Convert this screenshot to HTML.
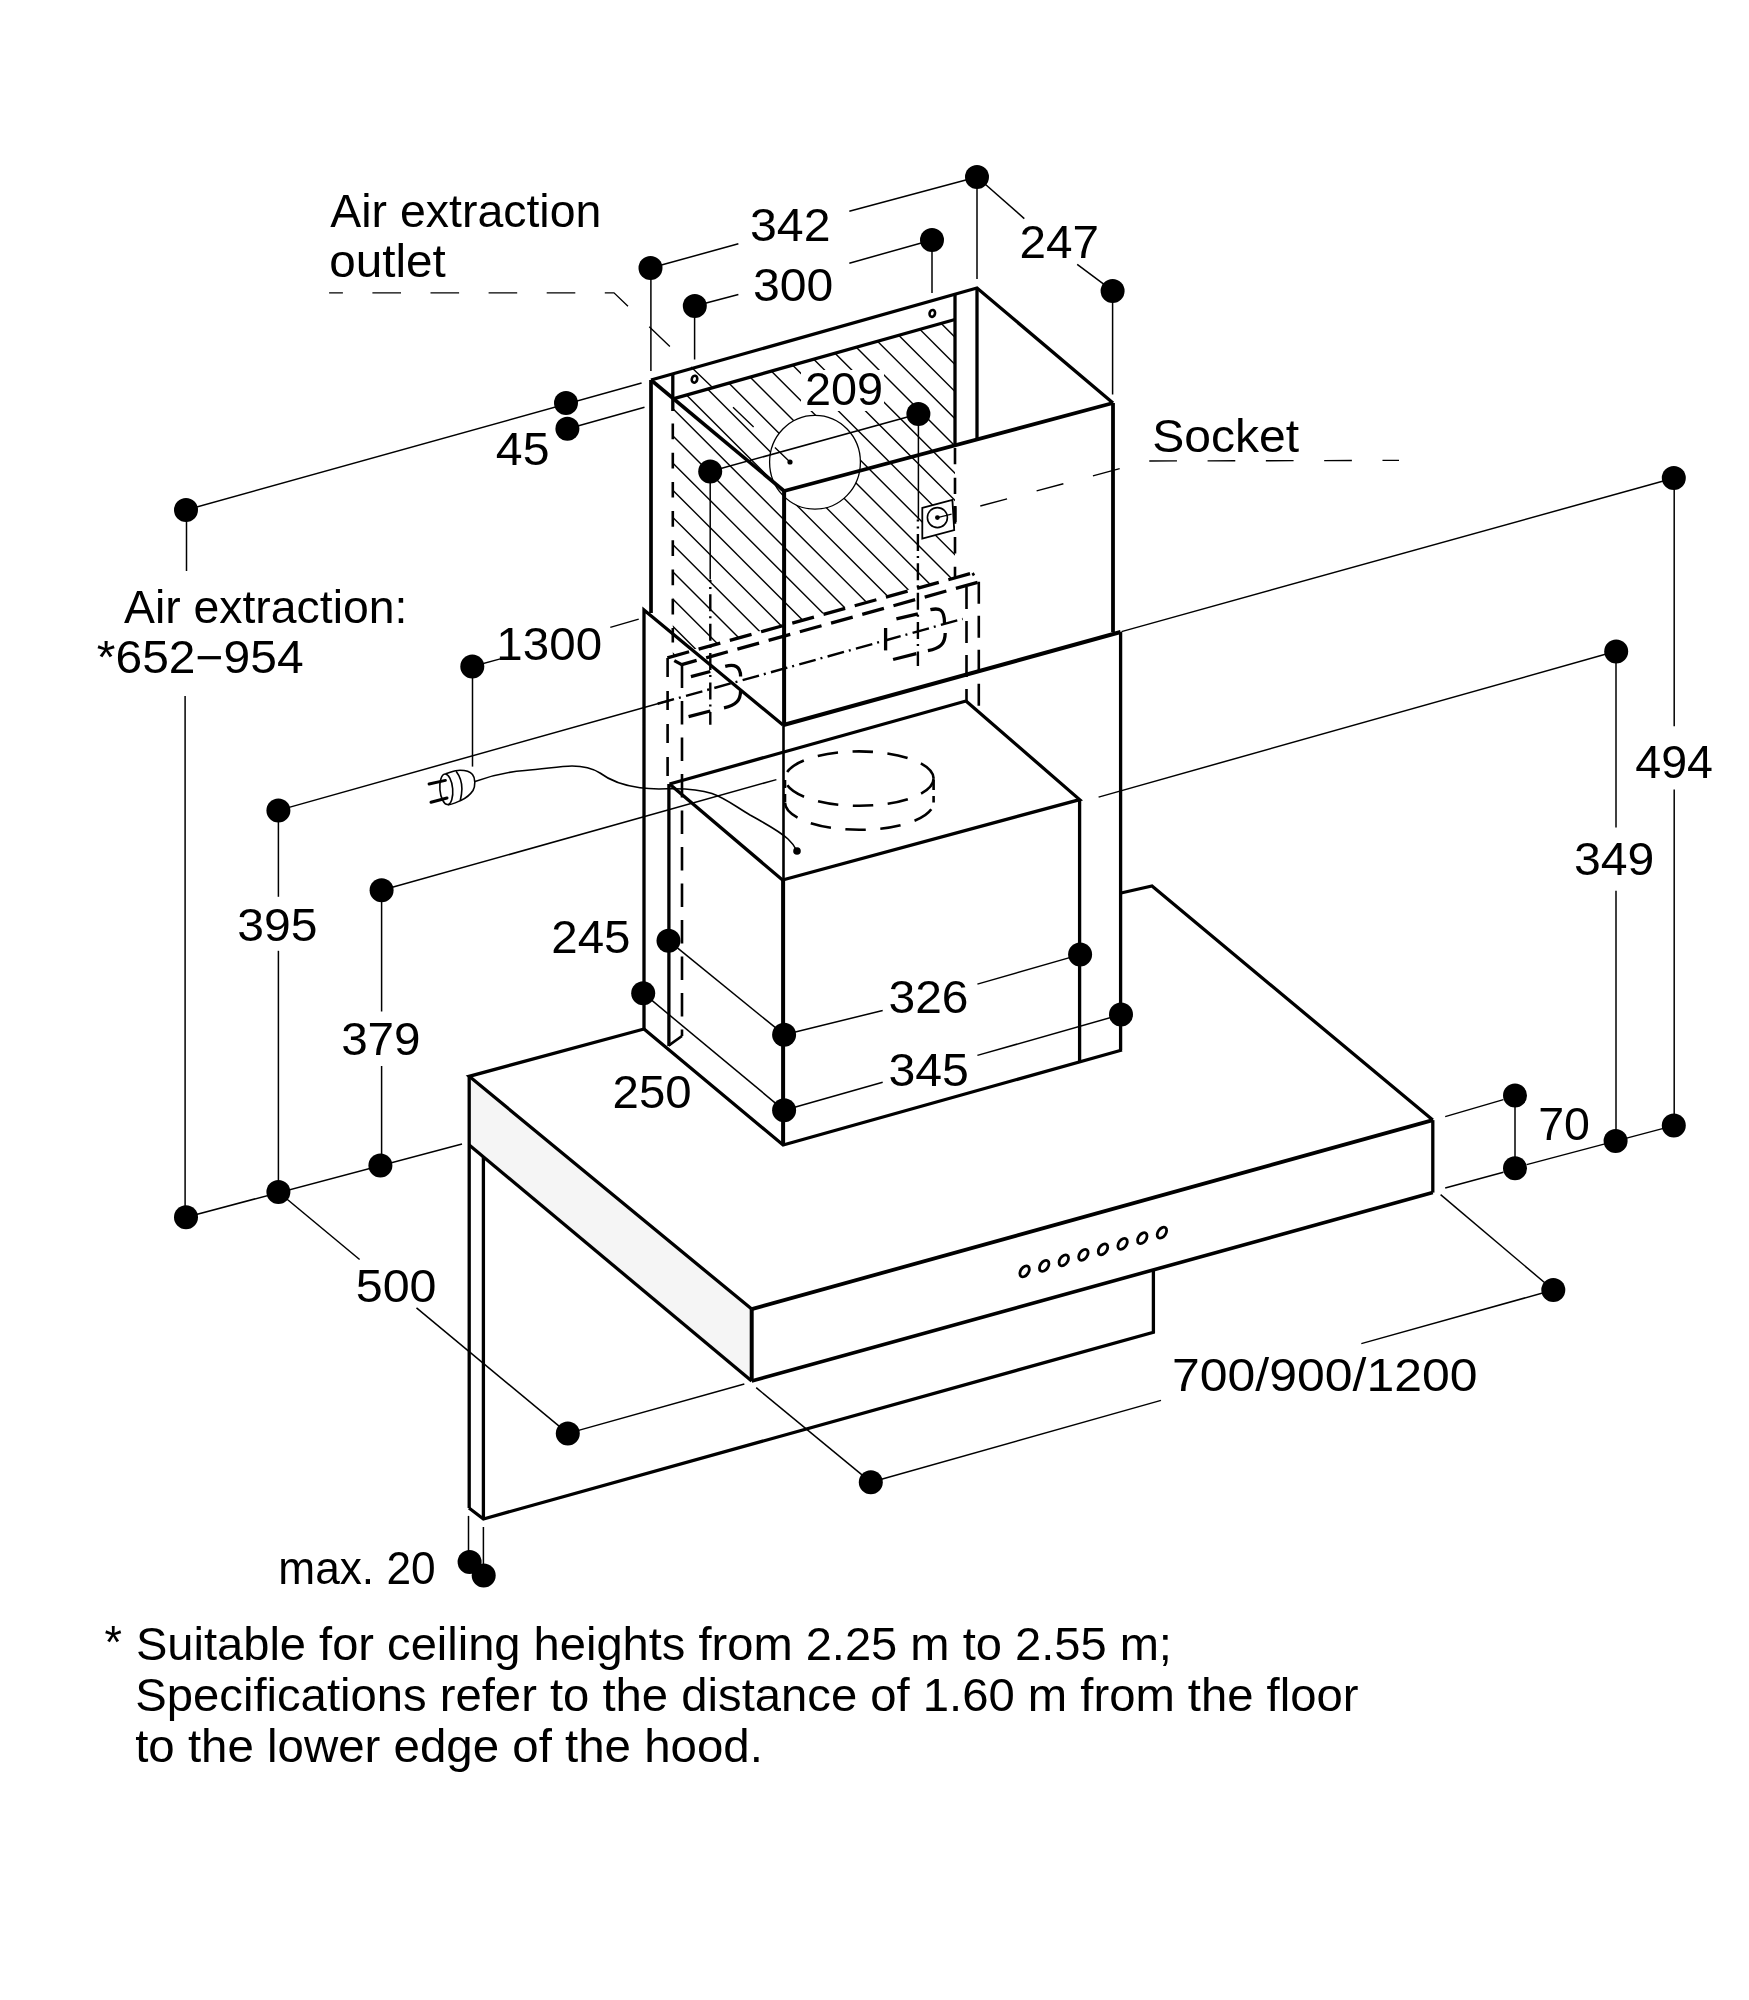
<!DOCTYPE html>
<html><head><meta charset="utf-8"><style>
html,body{margin:0;padding:0;background:#fff;}
svg{display:block;filter:grayscale(1);}
text{font-family:"Liberation Sans",sans-serif;fill:#000;}
</style></head><body>
<svg width="1749" height="2000" viewBox="0 0 1749 2000">
<defs><mask id="hm" maskUnits="userSpaceOnUse" x="0" y="0" width="1749" height="2000">
<polygon points="672.8,398.8 955,319.5 955,576.7 672.8,655.3" fill="#fff"/>
<ellipse cx="815" cy="462.2" rx="45.4" ry="46.9" fill="#000"/>
<rect x="801" y="370" width="83" height="41" fill="#000"/>
<polygon points="922.3,507.9 952.4,499.9 954.2,530 922.3,538.5" fill="#000"/>
</mask></defs>
<rect width="1749" height="2000" fill="#fff"/>
<g stroke="#000" stroke-linecap="butt" stroke-linejoin="miter" stroke-miterlimit="2.5" fill="none">
<polygon points="469.2,1076.3 751.7,1309.1 751.7,1381 469.2,1145" fill="#f5f5f5" stroke="none" stroke-width="0"/>
<g mask="url(#hm)">
<line x1="660" y1="-93.8" x2="970" y2="216.2" stroke-width="1.4"/>
<line x1="660" y1="-66.6" x2="970" y2="243.4" stroke-width="1.4"/>
<line x1="660" y1="-39.4" x2="970" y2="270.6" stroke-width="1.4"/>
<line x1="660" y1="-12.2" x2="970" y2="297.8" stroke-width="1.4"/>
<line x1="660" y1="15" x2="970" y2="325" stroke-width="1.4"/>
<line x1="660" y1="42.2" x2="970" y2="352.2" stroke-width="1.4"/>
<line x1="660" y1="69.4" x2="970" y2="379.4" stroke-width="1.4"/>
<line x1="660" y1="96.6" x2="970" y2="406.6" stroke-width="1.4"/>
<line x1="660" y1="123.8" x2="970" y2="433.8" stroke-width="1.4"/>
<line x1="660" y1="151" x2="970" y2="461" stroke-width="1.4"/>
<line x1="660" y1="178.2" x2="970" y2="488.2" stroke-width="1.4"/>
<line x1="660" y1="205.4" x2="970" y2="515.4" stroke-width="1.4"/>
<line x1="660" y1="232.6" x2="970" y2="542.6" stroke-width="1.4"/>
<line x1="660" y1="259.8" x2="970" y2="569.8" stroke-width="1.4"/>
<line x1="660" y1="287" x2="970" y2="597" stroke-width="1.4"/>
<line x1="660" y1="314.2" x2="970" y2="624.2" stroke-width="1.4"/>
<line x1="660" y1="341.4" x2="970" y2="651.4" stroke-width="1.4"/>
<line x1="660" y1="368.6" x2="970" y2="678.6" stroke-width="1.4"/>
<line x1="660" y1="395.8" x2="970" y2="705.8" stroke-width="1.4"/>
<line x1="660" y1="423" x2="970" y2="733" stroke-width="1.4"/>
<line x1="660" y1="450.2" x2="970" y2="760.2" stroke-width="1.4"/>
<line x1="660" y1="477.4" x2="970" y2="787.4" stroke-width="1.4"/>
<line x1="660" y1="504.6" x2="970" y2="814.6" stroke-width="1.4"/>
<line x1="660" y1="531.8" x2="970" y2="841.8" stroke-width="1.4"/>
<line x1="660" y1="559" x2="970" y2="869" stroke-width="1.4"/>
<line x1="660" y1="586.2" x2="970" y2="896.2" stroke-width="1.4"/>
<line x1="660" y1="613.4" x2="970" y2="923.4" stroke-width="1.4"/>
<line x1="660" y1="640.6" x2="970" y2="950.6" stroke-width="1.4"/>
<line x1="660" y1="667.8" x2="970" y2="977.8" stroke-width="1.4"/>
<line x1="660" y1="695" x2="970" y2="1005" stroke-width="1.4"/>
<line x1="660" y1="722.2" x2="970" y2="1032.2" stroke-width="1.4"/>
<line x1="660" y1="749.4" x2="970" y2="1059.4" stroke-width="1.4"/>
<line x1="660" y1="776.6" x2="970" y2="1086.6" stroke-width="1.4"/>
<line x1="660" y1="803.8" x2="970" y2="1113.8" stroke-width="1.4"/>
<line x1="660" y1="831" x2="970" y2="1141" stroke-width="1.4"/>
<line x1="660" y1="858.2" x2="970" y2="1168.2" stroke-width="1.4"/>
<line x1="660" y1="885.4" x2="970" y2="1195.4" stroke-width="1.4"/>
<line x1="660" y1="912.6" x2="970" y2="1222.6" stroke-width="1.4"/>
<line x1="660" y1="939.8" x2="970" y2="1249.8" stroke-width="1.4"/>
<line x1="660" y1="967" x2="970" y2="1277" stroke-width="1.4"/>
<line x1="660" y1="994.2" x2="970" y2="1304.2" stroke-width="1.4"/>
<line x1="660" y1="1021.4" x2="970" y2="1331.4" stroke-width="1.4"/>
<line x1="660" y1="1048.6" x2="970" y2="1358.6" stroke-width="1.4"/>
<line x1="660" y1="1075.8" x2="970" y2="1385.8" stroke-width="1.4"/>
<line x1="660" y1="1103" x2="970" y2="1413" stroke-width="1.4"/>
</g>
<ellipse cx="815" cy="462.2" rx="45.4" ry="46.9" stroke-width="1.3"/>
<polyline points="651,380 977,288 1113,403" stroke-width="3.3"/>
<line x1="1113" y1="403" x2="784.1" y2="491" stroke-width="3.8"/>
<line x1="651" y1="380" x2="784.1" y2="491" stroke-width="3.6"/>
<line x1="651" y1="380" x2="651" y2="613" stroke-width="3.7"/>
<line x1="784.1" y1="491" x2="784.1" y2="725" stroke-width="4"/>
<line x1="1113" y1="403" x2="1113" y2="632" stroke-width="3.8"/>
<line x1="672.9" y1="398.8" x2="955" y2="319.5" stroke-width="3.3"/>
<line x1="977" y1="288" x2="977" y2="440" stroke-width="3.3"/>
<line x1="955" y1="294.5" x2="955" y2="445.5" stroke-width="3.3"/>
<line x1="672.8" y1="374" x2="672.8" y2="411" stroke-width="3.3"/>
<ellipse cx="694.5" cy="379.2" rx="2.7" ry="3.5" transform="rotate(15 694.5 379.2)" stroke-width="2.6"/>
<ellipse cx="932.3" cy="313.4" rx="2.7" ry="3.5" transform="rotate(15 932.3 313.4)" stroke-width="2.6"/>
<line x1="672.8" y1="423.5" x2="672.8" y2="642.5" stroke-width="2.6" stroke-dasharray="15.7 13.5"/>
<line x1="955" y1="448" x2="955" y2="577" stroke-width="2.6" stroke-dasharray="16.3 13.4"/>
<line x1="667.4" y1="657.8" x2="972.6" y2="573" stroke-width="3.3" stroke-dasharray="22.5 9.9"/>
<line x1="681.7" y1="664.6" x2="979.5" y2="581.8" stroke-width="3.3" stroke-dasharray="22.5 9.9" stroke-dashoffset="7"/>
<polyline points="972.6,573 974,575.5" stroke-width="2.6"/>
<line x1="667.6" y1="658" x2="667.6" y2="784" stroke-width="2.6" stroke-dasharray="19 14"/>
<line x1="682" y1="664.6" x2="682" y2="1036" stroke-width="2.6" stroke-dasharray="23.5 13"/>
<polyline points="668.5,1045.6 682,1036" stroke-width="2.6"/>
<line x1="966.5" y1="587" x2="966.5" y2="701" stroke-width="2.6" stroke-dasharray="22 12"/>
<line x1="978.8" y1="581.8" x2="978.8" y2="712" stroke-width="2.6" stroke-dasharray="22 12"/>
<line x1="690.9" y1="676.6" x2="710.3" y2="671.5" stroke-width="3.3"/>
<line x1="688.6" y1="716.7" x2="710.3" y2="711" stroke-width="3.3"/>
<line x1="896.4" y1="618.9" x2="917.9" y2="613.9" stroke-width="3.3"/>
<line x1="893.1" y1="659.5" x2="916.3" y2="653.7" stroke-width="3.3"/>
<path d="M725.2,666.3 C734,664 740.6,665.5 740.6,676.6" stroke-width="3.3"/>
<path d="M740.6,690.4 C740.6,700.5 736,705.2 724,707.8" stroke-width="3.3"/>
<path d="M930.4,609.7 C939,607.8 944.5,608.6 944.5,623" stroke-width="3.3"/>
<path d="M945.2,633 C945.2,644 940,648.5 927.9,650.6" stroke-width="3.3"/>
<line x1="885.6" y1="628" x2="885.6" y2="650.4" stroke-width="3.3"/>
<line x1="674.3" y1="660.6" x2="681.7" y2="664.6" stroke-width="3.3"/>
<line x1="655" y1="704.5" x2="962.7" y2="618.9" stroke-width="2.4" stroke-dasharray="17 5 2 5.4" stroke-dashoffset="26.65"/>
<line x1="710.3" y1="580" x2="710.3" y2="724.7" stroke-width="2.4" stroke-dasharray="17 5 2 5.4" stroke-dashoffset="15.1"/>
<line x1="917.9" y1="519.4" x2="917.9" y2="666" stroke-width="2.4" stroke-dasharray="17 5 2 5.4" stroke-dashoffset="14.9"/>
<polygon points="922.3,507.9 952.4,499.9 954.2,530 922.3,538.5" fill="#fff" stroke="#000" stroke-width="1.8"/>
<circle cx="937.4" cy="517.6" r="10" stroke-width="1.6"/>
<circle cx="937.4" cy="517.6" r="2.4" fill="#000" stroke="none"/>
<line x1="937.4" y1="517.6" x2="951.6" y2="514.1" stroke-width="1.3"/>
<line x1="955" y1="506" x2="955" y2="522" stroke-width="3.3"/>
<polyline points="644,1029 644,610 783,725" stroke-width="3.3"/>
<line x1="783.5" y1="725" x2="1120.6" y2="632" stroke-width="4"/>
<line x1="1120.6" y1="632" x2="1120.6" y2="1050" stroke-width="3.3"/>
<line x1="783.5" y1="725" x2="783.5" y2="880" stroke-width="2.6"/>
<polyline points="644,1029 783.1,1145 1122,1050" stroke-width="3.3"/>
<line x1="669.5" y1="784" x2="966" y2="701" stroke-width="3.3"/>
<polyline points="669.5,784 782.5,880 1079.6,799.6 966,701" stroke-width="3.3"/>
<line x1="783.1" y1="880" x2="783.1" y2="1145" stroke-width="4"/>
<line x1="1079.6" y1="799.6" x2="1079.6" y2="1061" stroke-width="3.3"/>
<line x1="668.9" y1="784" x2="668.9" y2="1046" stroke-width="3.3"/>
<ellipse cx="859.3" cy="778.6" rx="74.3" ry="27.2" stroke-width="2.6" stroke-dasharray="20.5 14.5"/>
<path d="M785,802.6 A74.3,27.2 0 0 0 933.6,802.6" stroke-width="2.6" stroke-dasharray="20.5 14.5"/>
<line x1="785" y1="780" x2="785" y2="802.6" stroke-width="2.6" stroke-dasharray="8 6"/>
<line x1="933.6" y1="780" x2="933.6" y2="802.6" stroke-width="2.6" stroke-dasharray="10 6"/>
<path d="M475,781.5 C490,776 505,772 525,770.5 C545,769 560,766 572,766 C585,766 592,768 600,773 C608,779 620,785 640,787.8 C652,789.5 660,789 670,788.7 C685,788.5 700,789.5 712,793.5 C725,798 735,806 750,815 C765,823.5 778,830 788,839 C793,843.5 795,847 797,851" stroke-width="1.6"/>
<circle cx="797" cy="851" r="3.8" fill="#000" stroke="none"/>
<path d="M445.6,773.8 C452,771.8 455,770.3 460,770.3 C465,770.3 470,771.5 472.5,774.5 C475.5,778 475.5,786 473,790.5 C470,795 466,798 461.2,800.3 C456,802.5 452,804.5 447.8,805" stroke-width="1.6"/>
<ellipse cx="446.3" cy="789.3" rx="6.4" ry="15.3" transform="rotate(-5 446.3 789.3)" stroke-width="1.6"/>
<path d="M456.1,771.2 C460.5,777 462,783 461.9,789 C461.8,794 461,797.5 460.3,800.3" stroke-width="1.6"/>
<line x1="429.1" y1="784" x2="445.4" y2="780.4" stroke-width="3" stroke-linecap="round"/>
<line x1="431" y1="802.3" x2="447" y2="798" stroke-width="3" stroke-linecap="round"/>
<polyline points="644,1029 469.2,1076.3 751.7,1309.1" stroke-width="3.3"/>
<line x1="751.7" y1="1309.1" x2="1432.8" y2="1120.1" stroke-width="3.8"/>
<polyline points="1432.8,1120.1 1152,886 1121,893" stroke-width="3.3"/>
<line x1="469.2" y1="1076.3" x2="469.2" y2="1508" stroke-width="3.3"/>
<polyline points="469.2,1145 751.7,1381" stroke-width="3.3"/>
<line x1="751.7" y1="1381" x2="1432.8" y2="1192.6" stroke-width="3.6"/>
<line x1="1432.8" y1="1192.6" x2="1432.8" y2="1120.1" stroke-width="3.3"/>
<line x1="751.7" y1="1309.1" x2="751.7" y2="1381" stroke-width="4"/>
<polyline points="469,1508 483.4,1519 1153.4,1332.3 1153.4,1269.8" stroke-width="3.3"/>
<line x1="483.4" y1="1157" x2="483.4" y2="1519" stroke-width="3.3"/>
<ellipse cx="1024.6" cy="1271.4" rx="3.9" ry="6.1" transform="rotate(35 1024.6 1271.4)" stroke-width="2.8"/>
<ellipse cx="1044.2" cy="1265.9" rx="3.9" ry="6.1" transform="rotate(35 1044.2 1265.9)" stroke-width="2.8"/>
<ellipse cx="1063.8" cy="1260.3" rx="3.9" ry="6.1" transform="rotate(35 1063.8 1260.3)" stroke-width="2.8"/>
<ellipse cx="1083.4" cy="1254.8" rx="3.9" ry="6.1" transform="rotate(35 1083.4 1254.8)" stroke-width="2.8"/>
<ellipse cx="1103.0" cy="1249.3" rx="3.9" ry="6.1" transform="rotate(35 1103.0 1249.3)" stroke-width="2.8"/>
<ellipse cx="1122.6" cy="1243.8" rx="3.9" ry="6.1" transform="rotate(35 1122.6 1243.8)" stroke-width="2.8"/>
<ellipse cx="1142.3" cy="1238.2" rx="3.9" ry="6.1" transform="rotate(35 1142.3 1238.2)" stroke-width="2.8"/>
<ellipse cx="1161.9" cy="1232.7" rx="3.9" ry="6.1" transform="rotate(35 1161.9 1232.7)" stroke-width="2.8"/>
<path d="M329.1,292.8 L614,292.8 L790,462" stroke-width="1.35" stroke-dasharray="28.6 29.5" stroke-dashoffset="14.8"/>
<circle cx="790" cy="462" r="2.6" fill="#000" stroke="none"/>
<path d="M980.3,506 L1148.3,461 L1399,460.4" stroke-width="1.35" stroke-dasharray="27.7 30.6"/>
<line x1="650.5" y1="268" x2="738.4" y2="243.8" stroke-width="1.5"/>
<line x1="849.3" y1="211.3" x2="977" y2="177" stroke-width="1.5"/>
<line x1="694.8" y1="306" x2="738.4" y2="294.5" stroke-width="1.5"/>
<line x1="849.3" y1="263.2" x2="932" y2="240" stroke-width="1.5"/>
<line x1="650.9" y1="268" x2="650.9" y2="371" stroke-width="1.5"/>
<line x1="694.6" y1="306" x2="694.6" y2="359.5" stroke-width="1.5"/>
<line x1="932" y1="240" x2="932" y2="293" stroke-width="1.5"/>
<line x1="977" y1="177" x2="977" y2="279" stroke-width="1.5"/>
<line x1="1112.6" y1="291" x2="1112.6" y2="394.5" stroke-width="1.5"/>
<line x1="977" y1="177" x2="1024.3" y2="218.6" stroke-width="1.5"/>
<line x1="1077.2" y1="264.3" x2="1112.4" y2="290.6" stroke-width="1.5"/>
<line x1="186" y1="510" x2="641.6" y2="383" stroke-width="1.5"/>
<line x1="567" y1="429" x2="644.5" y2="407.3" stroke-width="1.5"/>
<line x1="710" y1="471.5" x2="918.3" y2="414" stroke-width="1.5"/>
<line x1="710.2" y1="471.5" x2="710.2" y2="579.6" stroke-width="1.5"/>
<line x1="918.4" y1="414" x2="918.4" y2="519.4" stroke-width="1.5"/>
<line x1="186.5" y1="510" x2="186.5" y2="571" stroke-width="1.5"/>
<line x1="185.1" y1="696" x2="185.1" y2="1217" stroke-width="1.5"/>
<line x1="472.3" y1="666.5" x2="500.3" y2="658.9" stroke-width="1.5"/>
<line x1="472.5" y1="666.5" x2="472.5" y2="766.6" stroke-width="1.5"/>
<line x1="610.3" y1="627.4" x2="638.7" y2="619.1" stroke-width="1.5"/>
<line x1="278.4" y1="810.4" x2="672.7" y2="699.5" stroke-width="1.5"/>
<line x1="278.4" y1="810.4" x2="278.4" y2="896.8" stroke-width="1.5"/>
<line x1="278.4" y1="950.8" x2="278.4" y2="1192" stroke-width="1.5"/>
<line x1="381.6" y1="890.3" x2="776.4" y2="779.6" stroke-width="1.5"/>
<line x1="381.6" y1="890.3" x2="381.6" y2="1011.5" stroke-width="1.5"/>
<line x1="381.6" y1="1066" x2="381.6" y2="1165.6" stroke-width="1.5"/>
<line x1="186" y1="1217.2" x2="462" y2="1144" stroke-width="1.5"/>
<line x1="278.4" y1="1192" x2="359.6" y2="1259.5" stroke-width="1.5"/>
<line x1="416.5" y1="1307.8" x2="567.8" y2="1433.4" stroke-width="1.5"/>
<line x1="567.8" y1="1433.4" x2="744.3" y2="1384" stroke-width="1.5"/>
<line x1="756.2" y1="1387.7" x2="870.8" y2="1482.2" stroke-width="1.5"/>
<line x1="870.8" y1="1482.2" x2="1161" y2="1400.4" stroke-width="1.5"/>
<line x1="1361.3" y1="1343.6" x2="1553.3" y2="1290" stroke-width="1.5"/>
<line x1="1440.6" y1="1194.6" x2="1553.3" y2="1290" stroke-width="1.5"/>
<line x1="1445.2" y1="1116.6" x2="1503.4" y2="1099.6" stroke-width="1.5"/>
<line x1="1445.2" y1="1188" x2="1503.4" y2="1172.3" stroke-width="1.5"/>
<line x1="1515" y1="1095.5" x2="1515" y2="1168.2" stroke-width="1.5"/>
<line x1="1526.7" y1="1164.6" x2="1673.8" y2="1125.6" stroke-width="1.5"/>
<line x1="1098.6" y1="797.1" x2="1616" y2="651.3" stroke-width="1.5"/>
<line x1="1616" y1="651.3" x2="1616" y2="827.6" stroke-width="1.5"/>
<line x1="1616" y1="890.8" x2="1616" y2="1141" stroke-width="1.5"/>
<line x1="1121.5" y1="631.6" x2="1674.2" y2="478" stroke-width="1.5"/>
<line x1="1674.2" y1="478" x2="1674.2" y2="726.3" stroke-width="1.5"/>
<line x1="1674.2" y1="789.6" x2="1674.2" y2="1125.6" stroke-width="1.5"/>
<line x1="668.5" y1="940.7" x2="784.1" y2="1034.7" stroke-width="1.5"/>
<line x1="643.2" y1="993.2" x2="784.1" y2="1110.3" stroke-width="1.5"/>
<line x1="784.1" y1="1034.7" x2="882.7" y2="1010.5" stroke-width="1.5"/>
<line x1="977.4" y1="984.1" x2="1080.1" y2="954.6" stroke-width="1.5"/>
<line x1="784.1" y1="1110.3" x2="882.7" y2="1082.2" stroke-width="1.5"/>
<line x1="977.4" y1="1055.4" x2="1121" y2="1014.6" stroke-width="1.5"/>
<line x1="468.5" y1="1515.9" x2="468.5" y2="1562" stroke-width="1.5"/>
<line x1="483.4" y1="1527" x2="483.4" y2="1575" stroke-width="1.5"/>
<circle cx="977" cy="177" r="12" fill="#000" stroke="none"/>
<circle cx="650.5" cy="268" r="12" fill="#000" stroke="none"/>
<circle cx="932" cy="240" r="12" fill="#000" stroke="none"/>
<circle cx="694.8" cy="306" r="12" fill="#000" stroke="none"/>
<circle cx="1112.6" cy="291" r="12" fill="#000" stroke="none"/>
<circle cx="566" cy="403" r="12" fill="#000" stroke="none"/>
<circle cx="567.4" cy="428.7" r="12" fill="#000" stroke="none"/>
<circle cx="186" cy="510" r="12" fill="#000" stroke="none"/>
<circle cx="710.2" cy="471.5" r="12" fill="#000" stroke="none"/>
<circle cx="918.4" cy="413.9" r="12" fill="#000" stroke="none"/>
<circle cx="472.3" cy="666.5" r="12" fill="#000" stroke="none"/>
<circle cx="1673.8" cy="478" r="12" fill="#000" stroke="none"/>
<circle cx="1616.2" cy="651.5" r="12" fill="#000" stroke="none"/>
<circle cx="278.4" cy="810.4" r="12" fill="#000" stroke="none"/>
<circle cx="381.6" cy="890.3" r="12" fill="#000" stroke="none"/>
<circle cx="668.5" cy="940.7" r="12" fill="#000" stroke="none"/>
<circle cx="643.2" cy="993.2" r="12" fill="#000" stroke="none"/>
<circle cx="784.1" cy="1034.7" r="12" fill="#000" stroke="none"/>
<circle cx="1080.1" cy="954.6" r="12" fill="#000" stroke="none"/>
<circle cx="784.1" cy="1110.3" r="12" fill="#000" stroke="none"/>
<circle cx="1121" cy="1014.6" r="12" fill="#000" stroke="none"/>
<circle cx="1515" cy="1095.5" r="12" fill="#000" stroke="none"/>
<circle cx="1515" cy="1168.2" r="12" fill="#000" stroke="none"/>
<circle cx="1615.6" cy="1141" r="12" fill="#000" stroke="none"/>
<circle cx="1673.8" cy="1125.6" r="12" fill="#000" stroke="none"/>
<circle cx="380.4" cy="1165.6" r="12" fill="#000" stroke="none"/>
<circle cx="278.4" cy="1192" r="12" fill="#000" stroke="none"/>
<circle cx="186" cy="1217.2" r="12" fill="#000" stroke="none"/>
<circle cx="567.8" cy="1433.4" r="12" fill="#000" stroke="none"/>
<circle cx="870.8" cy="1482.2" r="12" fill="#000" stroke="none"/>
<circle cx="1553.3" cy="1290" r="12" fill="#000" stroke="none"/>
<circle cx="469.6" cy="1562.1" r="12" fill="#000" stroke="none"/>
<circle cx="483.7" cy="1575.5" r="12" fill="#000" stroke="none"/>
<text transform="matrix(1.0098,0,0,1,330.30,226.90)" font-size="46" stroke="none">Air extraction</text>
<text transform="matrix(1.0355,0,0,1,329.33,277.20)" font-size="46" stroke="none">outlet</text>
<text transform="matrix(1.0493,0,0,1,750.00,241.00)" font-size="46" stroke="none">342</text>
<text transform="matrix(1.0466,0,0,1,752.91,301.40)" font-size="46" stroke="none">300</text>
<text transform="matrix(1.0370,0,0,1,1019.43,258.00)" font-size="46" stroke="none">247</text>
<text transform="matrix(1.0178,0,0,1,804.96,405.00)" font-size="46" stroke="none">209</text>
<text transform="matrix(1.0479,0,0,1,495.85,464.80)" font-size="46" stroke="none">45</text>
<text transform="matrix(1.0442,0,0,1,1152.31,452.00)" font-size="46" stroke="none">Socket</text>
<text transform="matrix(1.0079,0,0,1,124.00,623.40)" font-size="46" stroke="none">Air extraction:</text>
<text transform="matrix(1.0429,0,0,1,96.86,673.40)" font-size="46" stroke="none">*652−954</text>
<text transform="matrix(1.0330,0,0,1,496.37,660.10)" font-size="46" stroke="none">1300</text>
<text transform="matrix(1.0120,0,0,1,1635.29,777.60)" font-size="46" stroke="none">494</text>
<text transform="matrix(1.0466,0,0,1,1573.91,874.70)" font-size="46" stroke="none">349</text>
<text transform="matrix(1.0452,0,0,1,237.21,941.20)" font-size="46" stroke="none">395</text>
<text transform="matrix(1.0329,0,0,1,551.23,953.00)" font-size="46" stroke="none">245</text>
<text transform="matrix(1.0356,0,0,1,341.13,1055.20)" font-size="46" stroke="none">379</text>
<text transform="matrix(1.0425,0,0,1,888.52,1012.60)" font-size="46" stroke="none">326</text>
<text transform="matrix(1.0479,0,0,1,888.50,1085.70)" font-size="46" stroke="none">345</text>
<text transform="matrix(1.0301,0,0,1,612.54,1107.60)" font-size="46" stroke="none">250</text>
<text transform="matrix(1.0128,0,0,1,1538.17,1140.00)" font-size="46" stroke="none">70</text>
<text transform="matrix(1.0534,0,0,1,355.69,1302.20)" font-size="46" stroke="none">500</text>
<text transform="matrix(1.0856,0,0,1,1172.03,1390.80)" font-size="46" stroke="none">700/900/1200</text>
<text transform="matrix(0.9616,0,0,1,278.32,1584.40)" font-size="46" stroke="none">max. 20</text>
<text transform="matrix(0.9750,0,0,1,104.53,1657.80)" font-size="46" stroke="none">*</text>
<text transform="matrix(1.0234,0,0,1,135.95,1660.30)" font-size="46" stroke="none">Suitable for ceiling heights from 2.25 m to 2.55 m;</text>
<text transform="matrix(1.0270,0,0,1,135.25,1711.00)" font-size="46" stroke="none">Specifications refer to the distance of 1.60 m from the floor</text>
<text transform="matrix(1.0315,0,0,1,135.17,1761.50)" font-size="46" stroke="none">to the lower edge of the hood.</text>
</g>
</svg>
</body></html>
